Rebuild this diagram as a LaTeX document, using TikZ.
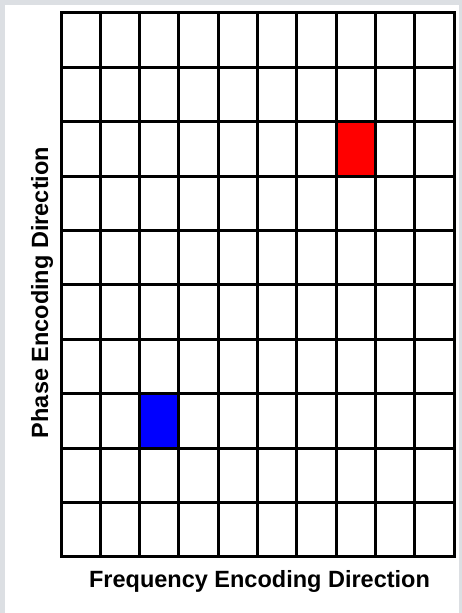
\documentclass[tikz,border=0pt]{standalone}
\usepackage{fontspec}
\setmainfont{Liberation Sans}
\usepackage{xcolor}
\usepackage{tikz}
\usetikzlibrary{positioning}
\definecolor{panelgray}{HTML}{DCDFE3}
\definecolor{voxred}{HTML}{FF0000}
\definecolor{voxblue}{HTML}{0000FF}

\tikzset{
  gridline/.style={line width=3pt, line cap=rect},
  axislabel/.style={font=\bfseries\fontsize{23.5}{28}\selectfont, inner sep=0pt}
}

\begin{document}
\begin{tikzpicture}[x=1pt, y=1pt]
    % panel and margins
    \fill[panelgray] (0,0) rectangle (462,613);
    \fill[white] (5,0) rectangle (459,608);
    \useasboundingbox (0,0) rectangle (462,613);
    % highlighted cells
    \fill[voxred] (61+7*39.3,600-3*54.4) rectangle (61+8*39.3,600-2*54.4);
    \fill[voxblue] (61+2*39.3,600-8*54.4) rectangle (61+3*39.3,600-7*54.4);
    % grid
    \foreach \i in {0,...,10} {
      \draw[gridline] (61+\i*39.3,56) -- (61+\i*39.3,600);
      \draw[gridline] (61,56+\i*54.4) -- (454,56+\i*54.4);
    }
    \node[axislabel, anchor=base] (freq) at (259.5,25) {Frequency Encoding Direction};
    \node[axislabel, rotate=90, anchor=base] (phase) at (48,320.5) {Phase Encoding Direction};
  \end{tikzpicture}
\end{document}
